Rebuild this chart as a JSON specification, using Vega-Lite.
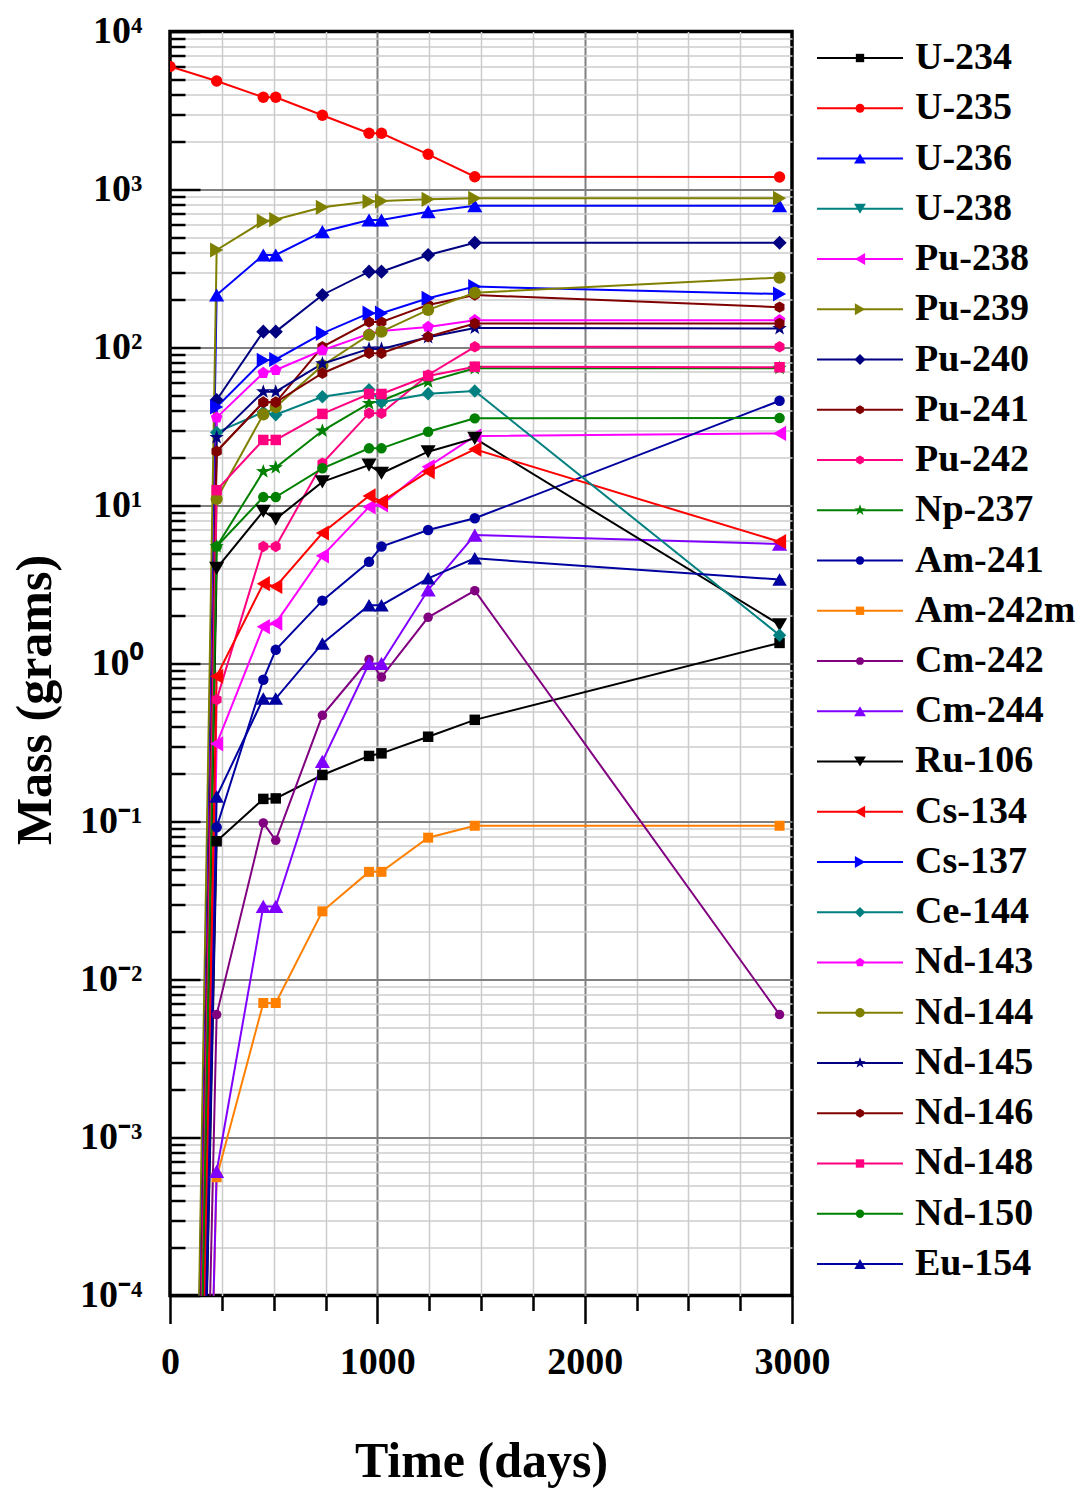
{
"$schema": "https://vega.github.io/schema/vega-lite/v6.json",
"background": "white",
"padding": {"left": 8, "top": 10.5, "right": 0, "bottom": 0},
"bounds": "flush",
"spacing": 23,
"resolve": {"scale": {"size": "independent", "x": "independent", "y": "independent"}},
"config": {"view": {"stroke": null}, "font": "Liberation Serif"},
"datasets": {
"legend": [{"iso":"U-234"},{"iso":"U-235"},{"iso":"U-236"},{"iso":"U-238"},{"iso":"Pu-238"},{"iso":"Pu-239"},{"iso":"Pu-240"},{"iso":"Pu-241"},{"iso":"Pu-242"},{"iso":"Np-237"},{"iso":"Am-241"},{"iso":"Am-242m"},{"iso":"Cm-242"},{"iso":"Cm-244"},{"iso":"Ru-106"},{"iso":"Cs-134"},{"iso":"Cs-137"},{"iso":"Ce-144"},{"iso":"Nd-143"},{"iso":"Nd-144"},{"iso":"Nd-145"},{"iso":"Nd-146"},{"iso":"Nd-148"},{"iso":"Nd-150"},{"iso":"Eu-154"}],
"main": [
{"iso":"U-234","t":0,"m":1e-15},{"iso":"U-234","t":225,"m":0.075},{"iso":"U-234","t":450,"m":0.139},{"iso":"U-234","t":510,"m":0.14},{"iso":"U-234","t":735,"m":0.197},{"iso":"U-234","t":960,"m":0.26},{"iso":"U-234","t":1020,"m":0.27},{"iso":"U-234","t":1245,"m":0.344},{"iso":"U-234","t":1470,"m":0.44},{"iso":"U-234","t":2940,"m":1.35},
{"iso":"U-235","t":0,"m":6000},{"iso":"U-235","t":225,"m":4860},{"iso":"U-235","t":450,"m":3835},{"iso":"U-235","t":510,"m":3835},{"iso":"U-235","t":735,"m":2950},{"iso":"U-235","t":960,"m":2270},{"iso":"U-235","t":1020,"m":2270},{"iso":"U-235","t":1245,"m":1670},{"iso":"U-235","t":1470,"m":1205},{"iso":"U-235","t":2940,"m":1200},
{"iso":"U-236","t":0,"m":1e-15},{"iso":"U-236","t":225,"m":215},{"iso":"U-236","t":450,"m":385},{"iso":"U-236","t":510,"m":385},{"iso":"U-236","t":735,"m":541},{"iso":"U-236","t":960,"m":641},{"iso":"U-236","t":1020,"m":641},{"iso":"U-236","t":1245,"m":724},{"iso":"U-236","t":1470,"m":790},{"iso":"U-236","t":2940,"m":790},
{"iso":"Pu-238","t":0,"m":1e-15},{"iso":"Pu-238","t":225,"m":0.31},{"iso":"Pu-238","t":450,"m":1.71},{"iso":"Pu-238","t":510,"m":1.8},{"iso":"Pu-238","t":735,"m":4.8},{"iso":"Pu-238","t":960,"m":9.8},{"iso":"Pu-238","t":1020,"m":10.1},{"iso":"Pu-238","t":1245,"m":17.6},{"iso":"Pu-238","t":1470,"m":27.5},{"iso":"Pu-238","t":2940,"m":28.6},
{"iso":"Pu-239","t":0,"m":1e-15},{"iso":"Pu-239","t":225,"m":414},{"iso":"Pu-239","t":450,"m":630},{"iso":"Pu-239","t":510,"m":645},{"iso":"Pu-239","t":735,"m":771},{"iso":"Pu-239","t":960,"m":840},{"iso":"Pu-239","t":1020,"m":845},{"iso":"Pu-239","t":1245,"m":867},{"iso":"Pu-239","t":1470,"m":880},{"iso":"Pu-239","t":2940,"m":880},
{"iso":"Pu-240","t":0,"m":1e-15},{"iso":"Pu-240","t":225,"m":46.5},{"iso":"Pu-240","t":450,"m":126},{"iso":"Pu-240","t":510,"m":126},{"iso":"Pu-240","t":735,"m":215},{"iso":"Pu-240","t":960,"m":302},{"iso":"Pu-240","t":1020,"m":302},{"iso":"Pu-240","t":1245,"m":385},{"iso":"Pu-240","t":1470,"m":460},{"iso":"Pu-240","t":2940,"m":460},
{"iso":"Pu-241","t":0,"m":1e-15},{"iso":"Pu-241","t":225,"m":22},{"iso":"Pu-241","t":450,"m":45},{"iso":"Pu-241","t":510,"m":45},{"iso":"Pu-241","t":735,"m":101},{"iso":"Pu-241","t":960,"m":145},{"iso":"Pu-241","t":1020,"m":145},{"iso":"Pu-241","t":1245,"m":186},{"iso":"Pu-241","t":1470,"m":215},{"iso":"Pu-241","t":2940,"m":180},
{"iso":"Pu-242","t":0,"m":1e-15},{"iso":"Pu-242","t":225,"m":0.59},{"iso":"Pu-242","t":450,"m":5.5},{"iso":"Pu-242","t":510,"m":5.5},{"iso":"Pu-242","t":735,"m":18.5},{"iso":"Pu-242","t":960,"m":38.4},{"iso":"Pu-242","t":1020,"m":38.4},{"iso":"Pu-242","t":1245,"m":67},{"iso":"Pu-242","t":1470,"m":101},{"iso":"Pu-242","t":2940,"m":101},
{"iso":"Np-237","t":0,"m":1e-15},{"iso":"Np-237","t":225,"m":5.5},{"iso":"Np-237","t":450,"m":16.4},{"iso":"Np-237","t":510,"m":17.4},{"iso":"Np-237","t":735,"m":29.7},{"iso":"Np-237","t":960,"m":44.3},{"iso":"Np-237","t":1020,"m":46},{"iso":"Np-237","t":1245,"m":60.8},{"iso":"Np-237","t":1470,"m":73.8},{"iso":"Np-237","t":2940,"m":74},
{"iso":"Am-241","t":0,"m":1e-15},{"iso":"Am-241","t":225,"m":0.092},{"iso":"Am-241","t":450,"m":0.79},{"iso":"Am-241","t":510,"m":1.22},{"iso":"Am-241","t":735,"m":2.5},{"iso":"Am-241","t":960,"m":4.4},{"iso":"Am-241","t":1020,"m":5.5},{"iso":"Am-241","t":1245,"m":7.0},{"iso":"Am-241","t":1470,"m":8.3},{"iso":"Am-241","t":2940,"m":46},
{"iso":"Am-242m","t":0,"m":1e-15},{"iso":"Am-242m","t":225,"m":0.00056},{"iso":"Am-242m","t":450,"m":0.0071},{"iso":"Am-242m","t":510,"m":0.0071},{"iso":"Am-242m","t":735,"m":0.027},{"iso":"Am-242m","t":960,"m":0.048},{"iso":"Am-242m","t":1020,"m":0.048},{"iso":"Am-242m","t":1245,"m":0.079},{"iso":"Am-242m","t":1470,"m":0.094},{"iso":"Am-242m","t":2940,"m":0.094},
{"iso":"Cm-242","t":0,"m":1e-15},{"iso":"Cm-242","t":225,"m":0.006},{"iso":"Cm-242","t":450,"m":0.098},{"iso":"Cm-242","t":510,"m":0.076},{"iso":"Cm-242","t":735,"m":0.47},{"iso":"Cm-242","t":960,"m":1.06},{"iso":"Cm-242","t":1020,"m":0.82},{"iso":"Cm-242","t":1245,"m":1.96},{"iso":"Cm-242","t":1470,"m":2.89},{"iso":"Cm-242","t":2940,"m":0.006},
{"iso":"Cm-244","t":0,"m":1e-15},{"iso":"Cm-244","t":225,"m":0.00061},{"iso":"Cm-244","t":450,"m":0.029},{"iso":"Cm-244","t":510,"m":0.029},{"iso":"Cm-244","t":735,"m":0.24},{"iso":"Cm-244","t":960,"m":1.0},{"iso":"Cm-244","t":1020,"m":1.0},{"iso":"Cm-244","t":1245,"m":2.92},{"iso":"Cm-244","t":1470,"m":6.5},{"iso":"Cm-244","t":2940,"m":5.7},
{"iso":"Ru-106","t":0,"m":1e-15},{"iso":"Ru-106","t":225,"m":4.0},{"iso":"Ru-106","t":450,"m":9.2},{"iso":"Ru-106","t":510,"m":8.2},{"iso":"Ru-106","t":735,"m":14.1},{"iso":"Ru-106","t":960,"m":18},{"iso":"Ru-106","t":1020,"m":16},{"iso":"Ru-106","t":1245,"m":21.9},{"iso":"Ru-106","t":1470,"m":26.6},{"iso":"Ru-106","t":2940,"m":1.76},
{"iso":"Cs-134","t":0,"m":1e-15},{"iso":"Cs-134","t":225,"m":0.83},{"iso":"Cs-134","t":450,"m":3.2},{"iso":"Cs-134","t":510,"m":3.07},{"iso":"Cs-134","t":735,"m":6.7},{"iso":"Cs-134","t":960,"m":11.5},{"iso":"Cs-134","t":1020,"m":10.6},{"iso":"Cs-134","t":1245,"m":16.4},{"iso":"Cs-134","t":1470,"m":22.7},{"iso":"Cs-134","t":2940,"m":5.9},
{"iso":"Cs-137","t":0,"m":1e-15},{"iso":"Cs-137","t":225,"m":42},{"iso":"Cs-137","t":450,"m":83},{"iso":"Cs-137","t":510,"m":84},{"iso":"Cs-137","t":735,"m":123},{"iso":"Cs-137","t":960,"m":165},{"iso":"Cs-137","t":1020,"m":165},{"iso":"Cs-137","t":1245,"m":205},{"iso":"Cs-137","t":1470,"m":243},{"iso":"Cs-137","t":2940,"m":218},
{"iso":"Ce-144","t":0,"m":1e-15},{"iso":"Ce-144","t":225,"m":29},{"iso":"Ce-144","t":450,"m":39},{"iso":"Ce-144","t":510,"m":37.5},{"iso":"Ce-144","t":735,"m":48.8},{"iso":"Ce-144","t":960,"m":54},{"iso":"Ce-144","t":1020,"m":45},{"iso":"Ce-144","t":1245,"m":51},{"iso":"Ce-144","t":1470,"m":53},{"iso":"Ce-144","t":2940,"m":1.51},
{"iso":"Nd-143","t":0,"m":1e-15},{"iso":"Nd-143","t":225,"m":36},{"iso":"Nd-143","t":450,"m":69},{"iso":"Nd-143","t":510,"m":72},{"iso":"Nd-143","t":735,"m":96},{"iso":"Nd-143","t":960,"m":122},{"iso":"Nd-143","t":1020,"m":127},{"iso":"Nd-143","t":1245,"m":135},{"iso":"Nd-143","t":1470,"m":149},{"iso":"Nd-143","t":2940,"m":149},
{"iso":"Nd-144","t":0,"m":1e-15},{"iso":"Nd-144","t":225,"m":11},{"iso":"Nd-144","t":450,"m":37.7},{"iso":"Nd-144","t":510,"m":42},{"iso":"Nd-144","t":735,"m":77},{"iso":"Nd-144","t":960,"m":120},{"iso":"Nd-144","t":1020,"m":126},{"iso":"Nd-144","t":1245,"m":173},{"iso":"Nd-144","t":1470,"m":222},{"iso":"Nd-144","t":2940,"m":277},
{"iso":"Nd-145","t":0,"m":1e-15},{"iso":"Nd-145","t":225,"m":27},{"iso":"Nd-145","t":450,"m":52.5},{"iso":"Nd-145","t":510,"m":52.5},{"iso":"Nd-145","t":735,"m":79},{"iso":"Nd-145","t":960,"m":98},{"iso":"Nd-145","t":1020,"m":98},{"iso":"Nd-145","t":1245,"m":116},{"iso":"Nd-145","t":1470,"m":133},{"iso":"Nd-145","t":2940,"m":132},
{"iso":"Nd-146","t":0,"m":1e-15},{"iso":"Nd-146","t":225,"m":22},{"iso":"Nd-146","t":450,"m":45},{"iso":"Nd-146","t":510,"m":45},{"iso":"Nd-146","t":735,"m":68.7},{"iso":"Nd-146","t":960,"m":92},{"iso":"Nd-146","t":1020,"m":92},{"iso":"Nd-146","t":1245,"m":117},{"iso":"Nd-146","t":1470,"m":142},{"iso":"Nd-146","t":2940,"m":142},
{"iso":"Nd-148","t":0,"m":1e-15},{"iso":"Nd-148","t":225,"m":12.5},{"iso":"Nd-148","t":450,"m":26},{"iso":"Nd-148","t":510,"m":26},{"iso":"Nd-148","t":735,"m":38},{"iso":"Nd-148","t":960,"m":50.8},{"iso":"Nd-148","t":1020,"m":50.8},{"iso":"Nd-148","t":1245,"m":66},{"iso":"Nd-148","t":1470,"m":75.6},{"iso":"Nd-148","t":2940,"m":75},
{"iso":"Nd-150","t":0,"m":1e-15},{"iso":"Nd-150","t":225,"m":5.5},{"iso":"Nd-150","t":450,"m":11.3},{"iso":"Nd-150","t":510,"m":11.3},{"iso":"Nd-150","t":735,"m":17.2},{"iso":"Nd-150","t":960,"m":23},{"iso":"Nd-150","t":1020,"m":23},{"iso":"Nd-150","t":1245,"m":29.3},{"iso":"Nd-150","t":1470,"m":35.6},{"iso":"Nd-150","t":2940,"m":35.8},
{"iso":"Eu-154","t":0,"m":1e-15},{"iso":"Eu-154","t":225,"m":0.144},{"iso":"Eu-154","t":450,"m":0.6},{"iso":"Eu-154","t":510,"m":0.6},{"iso":"Eu-154","t":735,"m":1.34},{"iso":"Eu-154","t":960,"m":2.34},{"iso":"Eu-154","t":1020,"m":2.34},{"iso":"Eu-154","t":1245,"m":3.46},{"iso":"Eu-154","t":1470,"m":4.63},{"iso":"Eu-154","t":2940,"m":3.4}
]
},
"hconcat": [
{
"width": 622, "height": 1264,
"data": {"name": "main"},
"view": {"stroke": "black", "strokeWidth": 3.5},
"resolve": {"axis": {"x": "independent", "y": "independent"}},
"layer": [
{
"mark": {"type": "line", "strokeWidth": 2, "clip": true},
"encoding": {
"x": {"field": "t", "type": "quantitative", "scale": {"domain": [0, 3000], "nice": false, "zero": false},
 "axis": {"orient": "bottom", "values": [0, 1000, 2000, 3000], "format": "d", "labelFont": "Liberation Serif", "labelFontWeight": "bold", "labelFontSize": 38, "labelColor": "black", "labelFlush": false, "labelOverlap": false, "labelPadding": 20, "tickSize": 28, "tickWidth": 2.5, "tickColor": "black", "domain": false, "grid": true, "gridColor": "#808080", "gridWidth": 2, "gridOpacity": {"condition": {"test": "datum.value <= 0 || datum.value >= 3000", "value": 0}, "value": 1}, "title": "Time (days)", "titleFont": "Liberation Serif", "titleFontWeight": "bold", "titleFontSize": 50, "titleColor": "black", "titleBaseline": "middle", "titleY": 166}},
"y": {"field": "m", "type": "quantitative", "scale": {"type": "log", "domain": [0.0001, 10000], "nice": false},
 "axis": {"orient": "left", "values": [0.0001, 0.001, 0.01, 0.1, 1, 10, 100, 1000, 10000], "labelExpr": "'10' + replace(replace(replace(replace(replace(replace('' + round(log(datum.value)/LN10), '-', '⁻'), '0', '⁰'), '1', '¹'), '2', '²'), '3', '³'), '4', '⁴')", "labelFont": "Liberation Serif", "labelFontWeight": "bold", "labelFontSize": 38, "labelColor": "black", "labelFlush": false, "labelOverlap": false, "labelPadding": 58, "tickSize": -30, "tickWidth": 2.5, "tickColor": "black", "domain": false, "grid": true, "gridColor": "#808080", "gridWidth": 2, "gridOpacity": {"condition": {"test": "datum.value <= 0.00011 || datum.value >= 9999", "value": 0}, "value": 1}, "title": "Mass (grams)", "titleFont": "Liberation Serif", "titleFontWeight": "bold", "titleFontSize": 50, "titleColor": "black", "titleAngle": -90, "titleBaseline": "middle", "titleX": -135, "titleY": 668}},
"color": {"field": "iso", "type": "nominal", "legend": null,
 "scale": {"domain": ["U-234","U-235","U-236","U-238","Pu-238","Pu-239","Pu-240","Pu-241","Pu-242","Np-237","Am-241","Am-242m","Cm-242","Cm-244","Ru-106","Cs-134","Cs-137","Ce-144","Nd-143","Nd-144","Nd-145","Nd-146","Nd-148","Nd-150","Eu-154"],
 "range": ["#000000","#FF0000","#0000FF","#008080","#FF00FF","#808000","#000080","#800000","#FF0080","#008000","#0000A0","#FF8000","#800080","#8000FF","#000000","#FF0000","#0000FF","#008080","#FF00FF","#808000","#000080","#800000","#FF0080","#008000","#0000A0"]}}
}
},
{
"mark": {"type": "point", "filled": true, "opacity": 1, "clip": true},
"encoding": {
"x": {"field": "t", "type": "quantitative", "scale": {"domain": [0, 3000], "nice": false, "zero": false},
 "axis": {"orient": "bottom", "values": [250, 500, 750, 1250, 1500, 1750, 2250, 2500, 2750], "labels": false, "tickSize": 15, "tickWidth": 2.5, "tickColor": "black", "domain": false, "grid": true, "gridColor": "#cccccc", "gridWidth": 1.5, "title": null}},
"y": {"field": "m", "type": "quantitative", "scale": {"type": "log", "domain": [0.0001, 10000], "nice": false},
 "axis": {"orient": "left", "values": [0.0002,0.0003,0.0004,0.0005,0.0006,0.0007,0.0008,0.0009,0.002,0.003,0.004,0.005,0.006,0.007,0.008,0.009,0.02,0.03,0.04,0.05,0.06,0.07,0.08,0.09,0.2,0.3,0.4,0.5,0.6,0.7,0.8,0.9,2,3,4,5,6,7,8,9,20,30,40,50,60,70,80,90,200,300,400,500,600,700,800,900,2000,3000,4000,5000,6000,7000,8000,9000], "labels": false, "tickSize": -15, "tickWidth": 2.5, "tickColor": "black", "domain": false, "grid": true, "gridColor": "#cccccc", "gridWidth": 1.5, "title": null}},
"color": {"field": "iso", "type": "nominal", "legend": null,
 "scale": {"domain": ["U-234","U-235","U-236","U-238","Pu-238","Pu-239","Pu-240","Pu-241","Pu-242","Np-237","Am-241","Am-242m","Cm-242","Cm-244","Ru-106","Cs-134","Cs-137","Ce-144","Nd-143","Nd-144","Nd-145","Nd-146","Nd-148","Nd-150","Eu-154"],
 "range": ["#000000","#FF0000","#0000FF","#008080","#FF00FF","#808000","#000080","#800000","#FF0080","#008000","#0000A0","#FF8000","#800080","#8000FF","#000000","#FF0000","#0000FF","#008080","#FF00FF","#808000","#000080","#800000","#FF0080","#008000","#0000A0"]}},
"shape": {"field": "iso", "type": "nominal", "legend": null,
 "scale": {"domain": ["U-234","U-235","U-236","U-238","Pu-238","Pu-239","Pu-240","Pu-241","Pu-242","Np-237","Am-241","Am-242m","Cm-242","Cm-244","Ru-106","Cs-134","Cs-137","Ce-144","Nd-143","Nd-144","Nd-145","Nd-146","Nd-148","Nd-150","Eu-154"],
 "range": ["square","circle","triangle-up","triangle-down","triangle-left","triangle-right","diamond","M0,-1L0.866,-0.5L0.866,0.5L0,1L-0.866,0.5L-0.866,-0.5Z","M0,-1L0.866,-0.5L0.866,0.5L0,1L-0.866,0.5L-0.866,-0.5Z","M0,-1L0.235,-0.324L0.951,-0.309L0.38,0.124L0.588,0.809L0,0.4L-0.588,0.809L-0.38,0.124L-0.951,-0.309L-0.235,-0.324Z","circle","square","circle","triangle-up","triangle-down","triangle-left","triangle-right","diamond","M0,-1L0.951,-0.309L0.588,0.809L-0.588,0.809L-0.951,-0.309Z","circle","M0,-1L0.235,-0.324L0.951,-0.309L0.38,0.124L0.588,0.809L0,0.4L-0.588,0.809L-0.38,0.124L-0.951,-0.309L-0.235,-0.324Z","M0,-1L0.866,-0.5L0.866,0.5L0,1L-0.866,0.5L-0.866,-0.5Z","square","circle","triangle-up"]}},
"size": {"field": "iso", "type": "nominal", "legend": null,
 "scale": {"type": "ordinal", "domain": ["U-234","U-235","U-236","U-238","Pu-238","Pu-239","Pu-240","Pu-241","Pu-242","Np-237","Am-241","Am-242m","Cm-242","Cm-244","Ru-106","Cs-134","Cs-137","Ce-144","Nd-143","Nd-144","Nd-145","Nd-146","Nd-148","Nd-150","Eu-154"],
 "range": [110,130,230,230,230,230,200,130,130,230,110,100,90,230,230,230,230,180,150,150,230,130,110,110,210]}}
}
}
]
},
{
"width": 272, "height": 1259,
"data": {"name": "legend"},
"layer": [
{
"mark": {"type": "rule", "strokeWidth": 2},
"encoding": {
"x": {"datum": 2, "type": "quantitative", "scale": {"domain": [0, 272], "nice": false, "zero": false}, "axis": null},
"x2": {"datum": 88},
"y": {"field": "iso", "type": "nominal", "sort": null, "scale": {"type": "point", "padding": 0.5274}, "axis": null},
"color": {"field": "iso", "type": "nominal", "legend": null,
 "scale": {"domain": ["U-234","U-235","U-236","U-238","Pu-238","Pu-239","Pu-240","Pu-241","Pu-242","Np-237","Am-241","Am-242m","Cm-242","Cm-244","Ru-106","Cs-134","Cs-137","Ce-144","Nd-143","Nd-144","Nd-145","Nd-146","Nd-148","Nd-150","Eu-154"],
 "range": ["#000000","#FF0000","#0000FF","#008080","#FF00FF","#808000","#000080","#800000","#FF0080","#008000","#0000A0","#FF8000","#800080","#8000FF","#000000","#FF0000","#0000FF","#008080","#FF00FF","#808000","#000080","#800000","#FF0080","#008000","#0000A0"]}}
}
},
{
"mark": {"type": "point", "filled": true, "opacity": 1},
"encoding": {
"x": {"datum": 45, "type": "quantitative", "scale": {"domain": [0, 272], "nice": false, "zero": false}, "axis": null},
"y": {"field": "iso", "type": "nominal", "sort": null, "scale": {"type": "point", "padding": 0.5274}, "axis": null},
"color": {"field": "iso", "type": "nominal", "legend": null,
 "scale": {"domain": ["U-234","U-235","U-236","U-238","Pu-238","Pu-239","Pu-240","Pu-241","Pu-242","Np-237","Am-241","Am-242m","Cm-242","Cm-244","Ru-106","Cs-134","Cs-137","Ce-144","Nd-143","Nd-144","Nd-145","Nd-146","Nd-148","Nd-150","Eu-154"],
 "range": ["#000000","#FF0000","#0000FF","#008080","#FF00FF","#808000","#000080","#800000","#FF0080","#008000","#0000A0","#FF8000","#800080","#8000FF","#000000","#FF0000","#0000FF","#008080","#FF00FF","#808000","#000080","#800000","#FF0080","#008000","#0000A0"]}},
"shape": {"field": "iso", "type": "nominal", "legend": null,
 "scale": {"domain": ["U-234","U-235","U-236","U-238","Pu-238","Pu-239","Pu-240","Pu-241","Pu-242","Np-237","Am-241","Am-242m","Cm-242","Cm-244","Ru-106","Cs-134","Cs-137","Ce-144","Nd-143","Nd-144","Nd-145","Nd-146","Nd-148","Nd-150","Eu-154"],
 "range": ["square","circle","triangle-up","triangle-down","triangle-left","triangle-right","diamond","M0,-1L0.866,-0.5L0.866,0.5L0,1L-0.866,0.5L-0.866,-0.5Z","M0,-1L0.866,-0.5L0.866,0.5L0,1L-0.866,0.5L-0.866,-0.5Z","M0,-1L0.235,-0.324L0.951,-0.309L0.38,0.124L0.588,0.809L0,0.4L-0.588,0.809L-0.38,0.124L-0.951,-0.309L-0.235,-0.324Z","circle","square","circle","triangle-up","triangle-down","triangle-left","triangle-right","diamond","M0,-1L0.951,-0.309L0.588,0.809L-0.588,0.809L-0.951,-0.309Z","circle","M0,-1L0.235,-0.324L0.951,-0.309L0.38,0.124L0.588,0.809L0,0.4L-0.588,0.809L-0.38,0.124L-0.951,-0.309L-0.235,-0.324Z","M0,-1L0.866,-0.5L0.866,0.5L0,1L-0.866,0.5L-0.866,-0.5Z","square","circle","triangle-up"]}},
"size": {"field": "iso", "type": "nominal", "legend": null,
 "scale": {"type": "ordinal", "domain": ["U-234","U-235","U-236","U-238","Pu-238","Pu-239","Pu-240","Pu-241","Pu-242","Np-237","Am-241","Am-242m","Cm-242","Cm-244","Ru-106","Cs-134","Cs-137","Ce-144","Nd-143","Nd-144","Nd-145","Nd-146","Nd-148","Nd-150","Eu-154"],
 "range": [70,80,140,140,140,140,120,80,80,140,70,70,60,140,140,140,140,110,90,90,140,80,70,70,130]}}
}
},
{
"mark": {"type": "text", "align": "left", "baseline": "middle", "font": "Liberation Serif", "fontWeight": "bold", "fontSize": 38, "color": "black"},
"encoding": {
"x": {"datum": 100, "type": "quantitative", "scale": {"domain": [0, 272], "nice": false, "zero": false}, "axis": null},
"y": {"field": "iso", "type": "nominal", "sort": null, "scale": {"type": "point", "padding": 0.5274}, "axis": null},
"text": {"field": "iso"}
}
}
]
}
]
}
